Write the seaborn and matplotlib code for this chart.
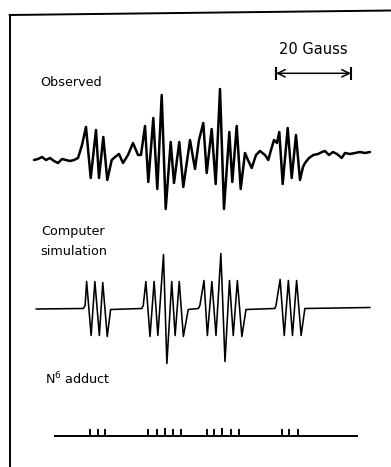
import matplotlib
matplotlib.use("Agg")
import matplotlib.pyplot as plt
import seaborn as sns
from matplotlib.lines import Line2D

# ---------------- data (field in Gauss, amplitude in arbitrary units) ----------------
obs_field = [-0.53, 0.53, 1.6, 2.67, 3.73, 4.8, 5.87, 6.93, 8.0, 9.07, 10.13, 11.2, 12.27,
             13.33, 14.59, 16.0, 16.8, 17.95, 19.01, 20.19, 21.07, 22.13, 23.2, 24.53, 25.87,
             27.2, 28.0, 29.07, 29.95, 31.28, 32.35, 33.52, 34.59, 35.92, 36.8, 38.21, 39.28,
             41.07, 42.4, 43.47, 44.61, 45.52, 46.85, 47.92, 49.07, 50.13, 51.55, 52.35, 53.52,
             54.59, 55.73, 56.53, 57.52, 58.67, 59.73, 61.07, 61.95, 62.67, 63.47, 64.27, 64.88,
             65.79, 67.12, 68.19, 69.33, 70.4, 71.2, 71.73, 72.8, 73.95, 75.2, 76.27, 77.07,
             78.13, 79.2, 80.27, 81.52, 82.4, 83.73, 85.07, 86.4, 87.73, 89.07]
obs_amp = [-4, -3, -1, -4, -2, -5, -7, -3, -4, -5, -4, -2, 11,
           29, -22, 26, -22, 19, -24, -4, -1, 2, -7, 1, 13,
           1, 1, 30, -26, 38, -33, 61, -53, 14, -27, 14, -31,
           16, -13, 16, 33, -17, 27, -28, 67, -53, 24, -26, 30,
           -33, 3, -4, -12, 1, 5, 1, -4, 6, 16, 13, 24,
           -28, 28, -22, 21, -24, -11, -7, -2, 1, 2, 4, 5,
           1, 4, 2, -2, 3, 2, 3, 4, 3, 4]

sim_field = [0.0, 12.6, 13.1, 13.5, 14.7, 15.7, 16.9, 17.8, 19.0, 19.9,
             28.2, 28.6, 29.3, 30.4, 31.5, 32.5, 34.0, 34.9, 36.2, 37.1, 38.2, 39.3, 40.6,
             43.3, 43.7, 44.8, 45.7, 46.9, 48.0, 49.3, 50.4, 51.6, 52.6, 53.7, 54.9, 56.0,
             63.7, 64.0, 65.1, 66.2, 67.3, 68.4, 69.5, 70.7, 71.7, 89.1]
sim_amp = [-0.5, 0, 3, 27, -27, 27, -27, 26, -28, -1,
           0, 3, 27, -28, 27, -27, 54, -55, 27, -27, 27, -28, -1,
           0, 3, 28, -27, 27, -27, 55, -53, 28, -27, 28, -28, -1,
           0, 3, 29, -27, 28, -27, 28, -27, 0, 1]

stick_field = [14.4, 16.45, 18.48,
               29.95, 32.19, 34.32, 36.45, 38.67,
               45.52, 47.55, 49.68, 52.0, 54.05,
               65.52, 67.55, 69.79]
stick_height = [7, 7, 7,
                7, 7, 8.5, 7, 7,
                7, 7, 8.5, 7, 7,
                7, 7, 7]
stick_range = [4.8, 85.9]

scale_bar = [64.0, 84.0]   # 20 Gauss
labels = ["Observed", "Computer", "simulation", r"N$^6$ adduct", "20 Gauss"]

# ---------------- figure ----------------
sns.set_theme(style="white")
plt.rcParams["font.family"] = ["DejaVu Sans"]
plt.rcParams["text.color"] = "black"

W, H = 391, 467
fig = plt.figure(figsize=(W / 100, H / 100), dpi=100)
fig.patch.set_facecolor("white")
XLIM = (-9.6, 94.67)


def make_ax(top_px, bottom_px, ylim):
    ax = fig.add_axes([0, 1 - bottom_px / H, 1, (bottom_px - top_px) / H])
    ax.set_xlim(XLIM)
    ax.set_ylim(ylim)
    ax.axis("off")
    return ax


ax_obs = make_ax(60, 220, (-64, 96))
ax_sim = make_ax(240, 380, (-71.5, 68.5))
ax_stk = make_ax(400, 460, (-24, 36))

sns.lineplot(x=obs_field, y=obs_amp, sort=False, estimator=None, color="black",
             lw=1.8, ax=ax_obs)
sns.lineplot(x=sim_field, y=sim_amp, sort=False, estimator=None, color="black",
             lw=1.15, ax=ax_sim)

ax_stk.hlines(0, stick_range[0], stick_range[1], color="black", lw=1.4)
ax_stk.vlines(stick_field, 0, stick_height, color="black", lw=1.4)

# scale bar
ax_obs.annotate("", xy=(scale_bar[0], 82.7), xytext=(scale_bar[1], 82.7),
                arrowprops=dict(arrowstyle="<->,head_length=0.45,head_width=0.22",
                                lw=1.1, color="black", shrinkA=0, shrinkB=0))
ax_obs.vlines(scale_bar, 76.5, 89, color="black", lw=1.5)

# text
fs = 9.2
fig.text(40 / W, 1 - 82.5 / H, labels[0], ha="left", va="center", fontsize=fs, color="black")
fig.text(41 / W, 1 - 231.5 / H, labels[1], ha="left", va="center", fontsize=fs, color="black")
fig.text(40 / W, 1 - 251.5 / H, labels[2], ha="left", va="center", fontsize=fs, color="black")
fig.text(45 / W, 1 - 379 / H, labels[3], ha="left", va="center", fontsize=fs, color="black")
fig.text(313.5 / W, 1 - 49 / H, labels[4], ha="center", va="center", fontsize=10.5,
         color="black")

# frame (top and left edges of the figure box)
fig.add_artist(Line2D([9.5 / W, 1], [1 - 15 / H, 1 - 10.5 / H],
                      transform=fig.transFigure, color="black", lw=1.4))
fig.add_artist(Line2D([9.5 / W, 9.5 / W], [1 - 15 / H, 0],
                      transform=fig.transFigure, color="black", lw=1.4))

fig.savefig("out.png", dpi=100, facecolor="white")
